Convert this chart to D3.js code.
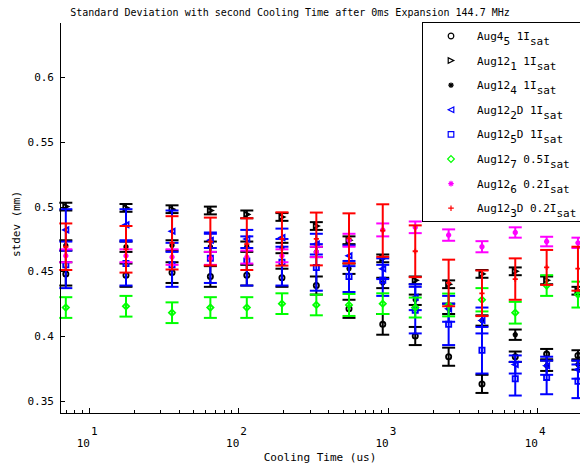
<!DOCTYPE html>
<html><head><meta charset="utf-8">
<script src="https://cdn.jsdelivr.net/npm/d3@7"></script>
<style>
body{margin:0;background:#fff;}
svg{display:block;}
text{font-family:"DejaVu Sans Mono",monospace;fill:#000;}
</style>
</head><body>
<svg id="chart" width="580" height="472"></svg>
<script>
// ---------------- data ----------------
const coolingTimes = [7, 17.7, 36, 65, 114, 196, 333, 551, 927, 1530, 2560, 4280, 7150, 11600, 18800];

const aug4_5     = [0.448, 0.447, 0.449, 0.446, 0.447, 0.445, 0.439, 0.421, 0.409, 0.400, 0.384, 0.363, 0.384, 0.386, 0.385];
const aug4_5Err  = [0.009, 0.009, 0.008, 0.008, 0.008, 0.007, 0.007, 0.007, 0.008, 0.007, 0.007, 0.007, 0.004, 0.004, 0.004];

const aug12_1    = [0.500, 0.499, 0.498, 0.497, 0.494, 0.492, 0.485, 0.474, 0.460, 0.443, 0.440, 0.448, 0.450, 0.443, 0.435];
const aug12_1Err = [0.003, 0.003, 0.003, 0.003, 0.003, 0.003, 0.003, 0.003, 0.003, 0.003, 0.003, 0.003, 0.003, 0.003, 0.003];

const aug12_4    = [0.470, 0.469, 0.470, 0.469, 0.469, 0.468, 0.465, 0.452, 0.441, 0.428, 0.421, 0.412, 0.401, 0.377, 0.378];
const aug12_4Err = [0.004, 0.004, 0.004, 0.004, 0.004, 0.004, 0.004, 0.004, 0.004, 0.004, 0.004, 0.004, 0.004, 0.004, 0.004];

const aug12_2D    = [0.482, 0.486, 0.481, 0.474, 0.475, 0.476, 0.471, 0.462, 0.452, 0.430, 0.421, 0.412, 0.378, 0.377, 0.374];
const aug12_2DErr = [0.016, 0.012, 0.016, 0.006, 0.007, 0.007, 0.008, 0.008, 0.008, 0.010, 0.010, 0.010, 0.007, 0.007, 0.007];

const aug12_5D    = [0.455, 0.456, 0.455, 0.460, 0.458, 0.457, 0.453, 0.446, 0.443, 0.420, 0.409, 0.389, 0.367, 0.368, 0.365];
const aug12_5DErr = [0.018, 0.017, 0.017, 0.019, 0.019, 0.018, 0.018, 0.012, 0.012, 0.018, 0.016, 0.018, 0.013, 0.013, 0.013];

const aug12_7    = [0.422, 0.423, 0.418, 0.422, 0.422, 0.425, 0.424, 0.424, 0.425, 0.422, 0.424, 0.428, 0.418, 0.439, 0.432];
const aug12_7Err = [0.008, 0.008, 0.008, 0.008, 0.008, 0.008, 0.008, 0.0085, 0.008, 0.0077, 0.0088, 0.009, 0.0084, 0.008, 0.010];

const aug12_6    = [0.462, 0.462, 0.461, 0.460, 0.461, 0.462, 0.465, 0.474, 0.482, 0.484, 0.478, 0.469, 0.480, 0.473, 0.472];
const aug12_6Err = [0.005, 0.005, 0.006, 0.005, 0.005, 0.005, 0.004, 0.005, 0.005, 0.0045, 0.0044, 0.0043, 0.004, 0.0037, 0.004];

const aug12_3D    = [0.469, 0.467, 0.472, 0.473, 0.471, 0.475, 0.475, 0.4755, 0.4815, 0.4655, 0.441, 0.433, 0.444, 0.453, 0.452];
const aug12_3DErr = [0.018, 0.018, 0.0206, 0.0185, 0.020, 0.0206, 0.0204, 0.0193, 0.0203, 0.020, 0.018, 0.0176, 0.016, 0.0135, 0.017];

// legend labels: [text, isSubscript]
const legendLabels = [
  [["Aug4",0],["5",1],[" 1I",0],["sat",1]],
  [["Aug12",0],["1",1],[" 1I",0],["sat",1]],
  [["Aug12",0],["4",1],[" 1I",0],["sat",1]],
  [["Aug12",0],["2",1],["D 1I",0],["sat",1]],
  [["Aug12",0],["5",1],["D 1I",0],["sat",1]],
  [["Aug12",0],["7",1],[" 0.5I",0],["sat",1]],
  [["Aug12",0],["6",1],[" 0.2I",0],["sat",1]],
  [["Aug12",0],["3",1],["D 0.2I",0],["sat",1]]
];

const yTickValues = [0.35, 0.4, 0.45, 0.5, 0.55, 0.6];
const yTickLabels = ["0.35", "0.4", "0.45", "0.5", "0.55", "0.6"];
const xMajorTicks = [10, 100, 1000, 10000];
const xMajorExp   = ["1", "2", "3", "4"];
const xMinorTicks = [7, 8, 9, 20, 30, 40, 50, 60, 70, 80, 90, 200, 300, 400, 500, 600, 700, 800, 900,
                     2000, 3000, 4000, 5000, 6000, 7000, 8000, 9000];

const titleText = "Standard Deviation with second Cooling Time after 0ms Expansion 144.7 MHz";
const xLabel = "Cooling Time (us)";
const yLabel = "stdev (mm)";

// ---------------- series table ----------------
const series = [
  {vals: aug4_5,   errs: aug4_5Err,   color: "#000000", marker: "circle"},
  {vals: aug12_1,  errs: aug12_1Err,  color: "#000000", marker: "triRight"},
  {vals: aug12_4,  errs: aug12_4Err,  color: "#000000", marker: "star"},
  {vals: aug12_2D, errs: aug12_2DErr, color: "#0000ff", marker: "triLeft"},
  {vals: aug12_5D, errs: aug12_5DErr, color: "#0000ff", marker: "square"},
  {vals: aug12_7,  errs: aug12_7Err,  color: "#00ff00", marker: "diamond"},
  {vals: aug12_6,  errs: aug12_6Err,  color: "#ff00ff", marker: "star"},
  {vals: aug12_3D, errs: aug12_3DErr, color: "#ff0000", marker: "plus"}
];

// ---------------- layout ----------------
const svg = d3.select("#chart");
const L = 60, R = 580, T = 23, B = 413;

const x = d3.scaleLog().domain([6.40, 19400]).range([L, R]);
const y = d3.scaleLinear().domain([0.3405, 0.6419]).range([B, T]);

function markerPath(type, s) {
  switch (type) {
    case "circle": return `M${s},0A${s},${s} 0 1,1 ${-s},0A${s},${s} 0 1,1 ${s},0Z`;
    case "triRight": return `M${s},0L${-s},${-s}L${-s},${s}Z`;
    case "triLeft": return `M${-s},0L${s},${-s}L${s},${s}Z`;
    case "square": return `M${-s},${-s}L${s},${-s}L${s},${s}L${-s},${s}Z`;
    case "diamond": return `M0,${-s*1.2}L${s*1.2},0L0,${s*1.2}L${-s*1.2},0Z`;
    case "plus": return `M${-s},0L${s},0M0,${-s}L0,${s}`;
    case "star": {
      const d = s*0.7;
      return `M${-s},0L${s},0M0,${-s}L0,${s}M${-d},${-d}L${d},${d}M${-d},${d}L${d},${-d}`;
    }
  }
}

// ---------------- plot ----------------
const plot = svg.append("g");
const capW = 6.5;
series.forEach(sr => {
  const g = plot.append("g");
  const pts = coolingTimes.map((t, i) => ({t, v: sr.vals[i], e: sr.errs[i]}));
  const eb = g.selectAll("g.eb").data(pts).enter().append("g")
    .attr("stroke", sr.color).attr("stroke-width", 2).attr("fill", "none");
  eb.append("line").attr("x1", d => x(d.t)).attr("x2", d => x(d.t))
    .attr("y1", d => y(d.v - d.e)).attr("y2", d => y(d.v + d.e));
  eb.append("line").attr("x1", d => x(d.t) - capW).attr("x2", d => x(d.t) + capW)
    .attr("y1", d => y(d.v + d.e)).attr("y2", d => y(d.v + d.e));
  eb.append("line").attr("x1", d => x(d.t) - capW).attr("x2", d => x(d.t) + capW)
    .attr("y1", d => y(d.v - d.e)).attr("y2", d => y(d.v - d.e));
  g.selectAll("path.mk").data(pts).enter().append("path")
    .attr("transform", d => `translate(${x(d.t)},${y(d.v)})`)
    .attr("d", markerPath(sr.marker, 2.6))
    .attr("stroke", sr.color).attr("stroke-width", 1.8).attr("fill", "none");
});

// ---------------- axes ----------------
const axes = svg.append("g").attr("shape-rendering", "crispEdges");
axes.append("line").attr("x1", L).attr("x2", R).attr("y1", B).attr("y2", B)
  .attr("stroke", "#000").attr("stroke-width", 1);
axes.append("line").attr("x1", L).attr("x2", L).attr("y1", T).attr("y2", B)
  .attr("stroke", "#000").attr("stroke-width", 1);
axes.selectAll("line.minor").data(xMinorTicks).enter().append("line")
  .attr("x1", d => Math.round(x(d))).attr("x2", d => Math.round(x(d)))
  .attr("y1", B).attr("y2", B - 3).attr("stroke", "#000").attr("stroke-width", 1);
axes.selectAll("line.major").data(xMajorTicks).enter().append("line")
  .attr("x1", d => Math.round(x(d))).attr("x2", d => Math.round(x(d)))
  .attr("y1", B).attr("y2", B - 5).attr("stroke", "#000").attr("stroke-width", 1);
axes.selectAll("line.ytick").data(yTickValues).enter().append("line")
  .attr("x1", L).attr("x2", L + 5)
  .attr("y1", d => Math.round(y(d))).attr("y2", d => Math.round(y(d)))
  .attr("stroke", "#000").attr("stroke-width", 1);

svg.selectAll("text.ylab").data(yTickValues).enter().append("text")
  .attr("x", L - 6).attr("y", d => y(d) + 4).attr("text-anchor", "end")
  .attr("font-size", 11).text((d, i) => yTickLabels[i]);

xMajorTicks.forEach((t, i) => {
  svg.append("text").attr("x", x(t) + 1).attr("y", 447).attr("text-anchor", "end")
    .attr("font-size", 11).text("10");
  svg.append("text").attr("x", x(t) + 2).attr("y", 435).attr("text-anchor", "start")
    .attr("font-size", 11).text(xMajorExp[i]);
});

// ---------------- labels ----------------
svg.append("text").attr("x", 290).attr("y", 16).attr("text-anchor", "middle")
  .attr("font-size", 10).text(titleText);
svg.append("text").attr("x", 320).attr("y", 461).attr("text-anchor", "middle")
  .attr("font-size", 11).text(xLabel);
svg.append("text").attr("transform", "translate(20,224) rotate(-90)").attr("text-anchor", "middle")
  .attr("font-size", 11).text(yLabel);

// ---------------- legend ----------------
const lg = svg.append("g");
lg.append("rect").attr("x", 422.5).attr("y", 22.5).attr("width", 200).attr("height", 199)
  .attr("fill", "#fff").attr("stroke", "#000").attr("stroke-width", 1);
series.forEach((sr, i) => {
  const cy = 36 + i * 24.6;
  lg.append("path").attr("transform", `translate(451,${cy})`)
    .attr("d", markerPath(sr.marker, 2.8))
    .attr("stroke", sr.color).attr("stroke-width", 1.2).attr("fill", "none");
  const t = lg.append("text").attr("x", 477).attr("y", cy + 4).attr("font-size", 11);
  legendLabels[i].forEach((p, j) => {
    const prev = j > 0 ? legendLabels[i][j - 1][1] : 0;
    t.append("tspan").attr("dy", p[1] ? 5 : (prev ? -5 : 0)).text(p[0]);
  });
});
</script>
</body></html>
